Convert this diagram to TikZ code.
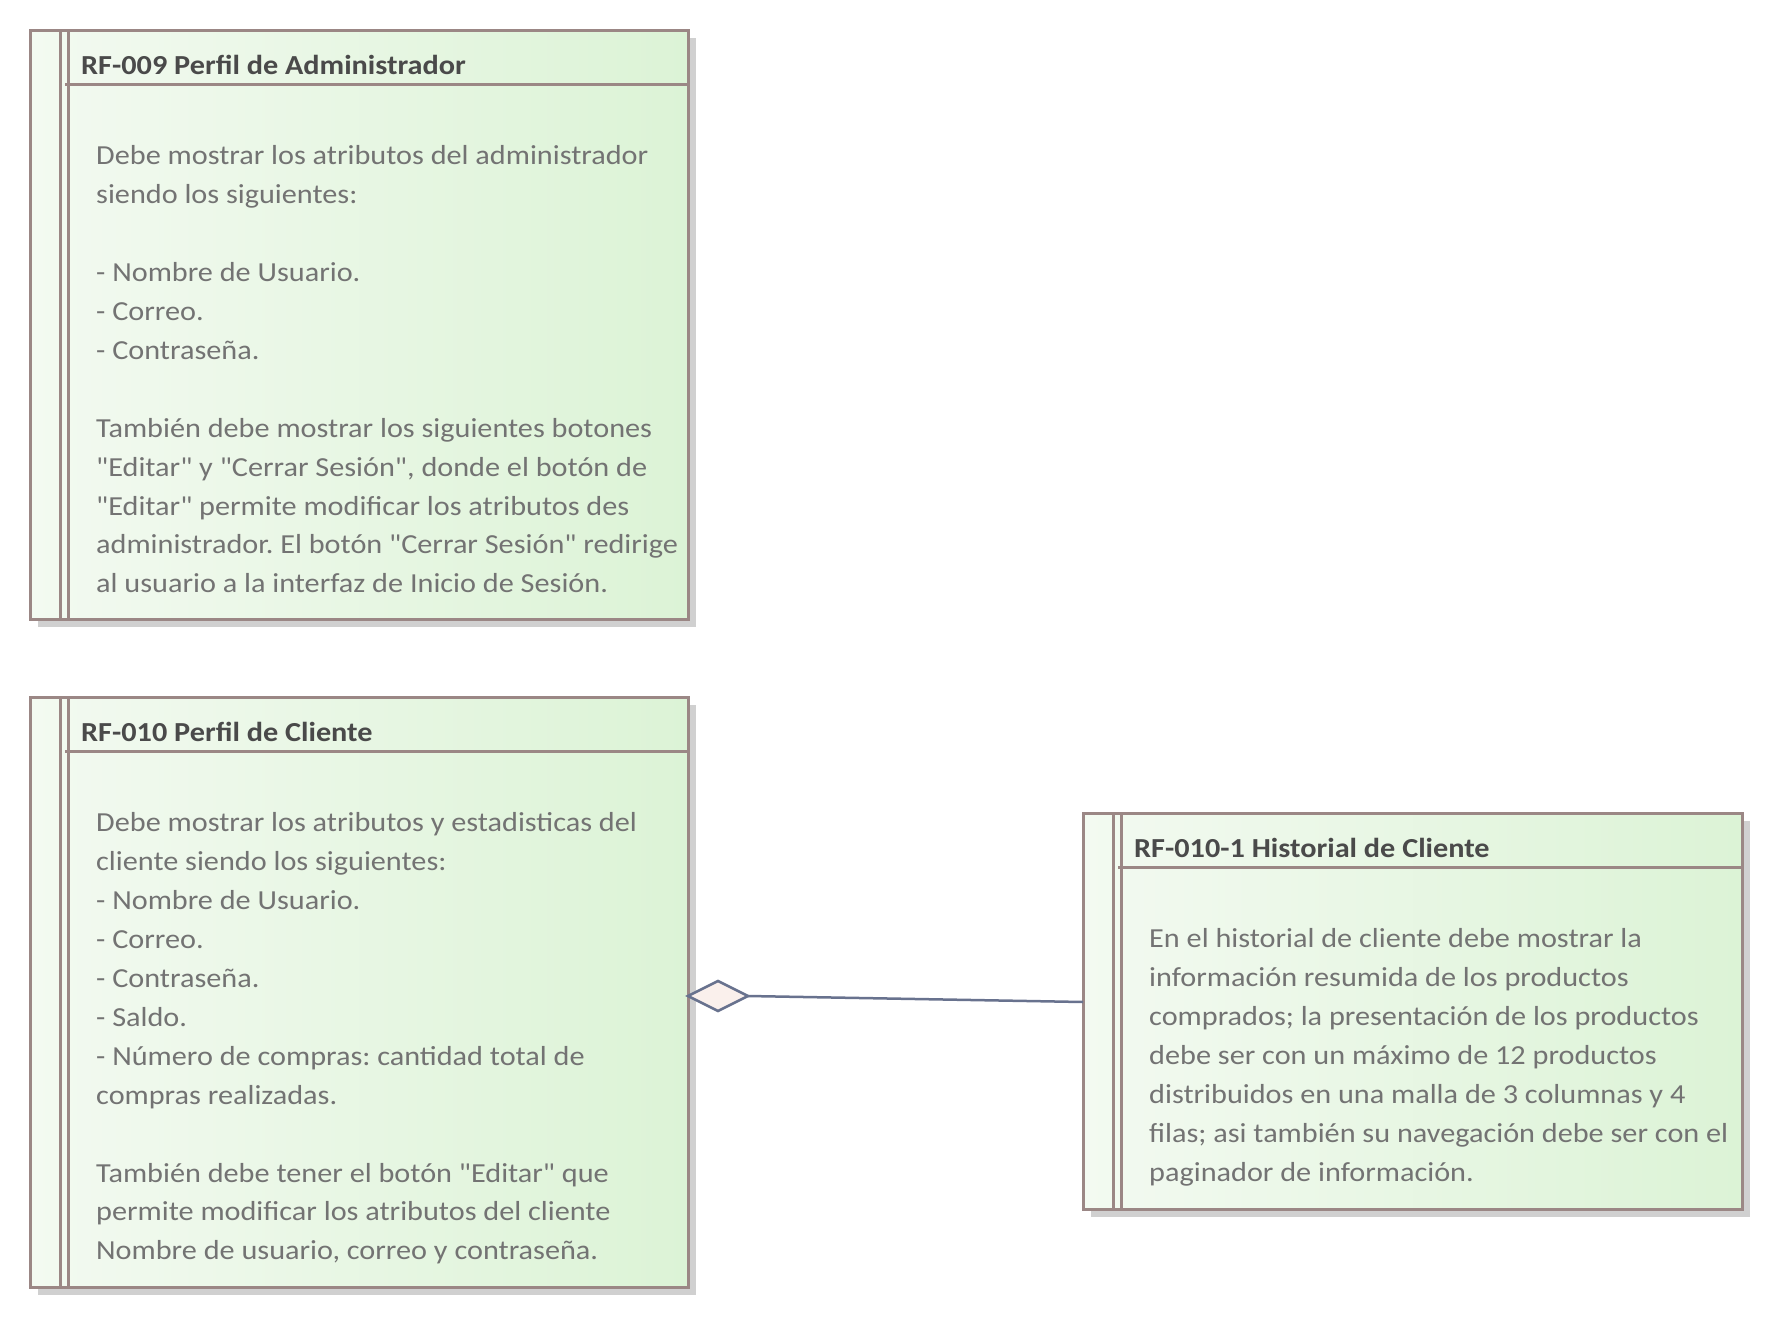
\documentclass[tikz,border=0pt]{standalone}
\usepackage{fontspec}
\setmainfont{Carlito}[FakeStretch=1.1, Ligatures=TeXOff]
\usetikzlibrary{calc,shapes.geometric,shadows}
\definecolor{reqedge}{RGB}{155,135,133}
\definecolor{reqleft}{RGB}{243,250,241}
\definecolor{reqright}{RGB}{220,243,214}
\definecolor{reqshadow}{RGB}{208,208,208}
\definecolor{reqtext}{RGB}{115,115,115}
\definecolor{reqhead}{RGB}{74,74,74}
\definecolor{assoc}{RGB}{104,114,142}
\definecolor{aggfill}{RGB}{250,240,236}
\frenchspacing

\begin{document}
\begin{tikzpicture}[x=1pt,y=-1pt,
  req/.style={draw=reqedge, line width=3pt, left color=reqleft, right color=reqright,
    anchor=north west, outer sep=0pt, inner sep=0pt,
    drop shadow={shadow xshift=8pt,shadow yshift=-8pt,fill=reqshadow,opacity=1}},
  reqline/.style={draw=reqedge, line width=3pt},
  reqtitle/.style={anchor=base west, inner sep=0pt, text=reqhead, font=\fontsize{27.5}{33}\selectfont\bfseries},
  reqbody/.style={anchor=north west, inner sep=0pt, align=left, text=reqtext, font=\fontsize{27.5}{38.9}\selectfont},
  aggr/.style={diamond, draw=assoc, fill=aggfill, line width=2.5pt, inner sep=0pt, outer sep=0pt,
    minimum width=60pt, minimum height=30pt},
  link/.style={draw=assoc, line width=2.5pt}]
\useasboundingbox (0,0) rectangle (1773,1317);

% requisitos
\node[req, minimum width=658pt, minimum height=589pt] (rf9) at (30,30) {};
\node[req, minimum width=658pt, minimum height=590pt] (rf10) at (30,697) {};
\node[req, minimum width=659pt, minimum height=396pt] (rf101) at (1083,813) {};

\foreach \b in {rf9,rf10,rf101}{
	\draw[reqline] ([xshift=30pt]\b.north west) -- ([xshift=30pt]\b.south west);
	\draw[reqline] ([xshift=38pt]\b.north west) -- ([xshift=38pt]\b.south west);
	\draw[reqline] ([xshift=35pt,yshift=-54pt]\b.north west) -- ([yshift=-54pt]\b.north east);
	}

\node[reqtitle] (rf9t) at ([xshift=51pt,yshift=-44pt]rf9.north west) {RF-009 Perfil de Administrador};
\node[reqbody] (rf9b) at ([xshift=66pt,yshift=-107.5pt]rf9.north west) {\strut Debe mostrar los atributos del administrador\\
siendo los siguientes:\\[38.9pt]
- Nombre de Usuario.\\
- Correo.\\
- Contraseña.\\[38.9pt]
También debe mostrar los siguientes botones\\
"Editar" y "Cerrar Sesión", donde el botón de\\
"Editar" permite modificar los atributos des\\
administrador. El botón "Cerrar Sesión" redirige\\
al usuario a la interfaz de Inicio de Sesión.};

\node[reqtitle] (rf10t) at ([xshift=51pt,yshift=-44pt]rf10.north west) {RF-010 Perfil de Cliente};
\node[reqbody] (rf10b) at ([xshift=66pt,yshift=-107.5pt]rf10.north west) {\strut Debe mostrar los atributos y estadisticas del\\
cliente siendo los siguientes:\\
- Nombre de Usuario.\\
- Correo.\\
- Contraseña.\\
- Saldo.\\
- Número de compras: cantidad total de\\
compras realizadas.\\[38.9pt]
También debe tener el botón "Editar" que\\
permite modificar los atributos del cliente\\
Nombre de usuario, correo y contraseña.};

\node[reqtitle] (rf101t) at ([xshift=51pt,yshift=-44pt]rf101.north west) {RF-010-1 Historial de Cliente};
\node[reqbody] (rf101b) at ([xshift=66pt,yshift=-107.5pt]rf101.north west) {\strut En el historial de cliente debe mostrar la\\
información resumida de los productos\\
comprados; la presentación de los productos\\
debe ser con un máximo de 12 productos\\
distribuidos en una malla de 3 columnas y 4\\
filas; asi también su navegación debe ser con el\\
paginador de información.};

% agregacion
\node[aggr, anchor=west] (agg) at ([yshift=-4pt]rf10.east) {};
\coordinate (rf101in) at ([yshift=9pt]rf101.west);
\draw[link] (agg.east) -- (rf101in);
\end{tikzpicture}
\end{document}
